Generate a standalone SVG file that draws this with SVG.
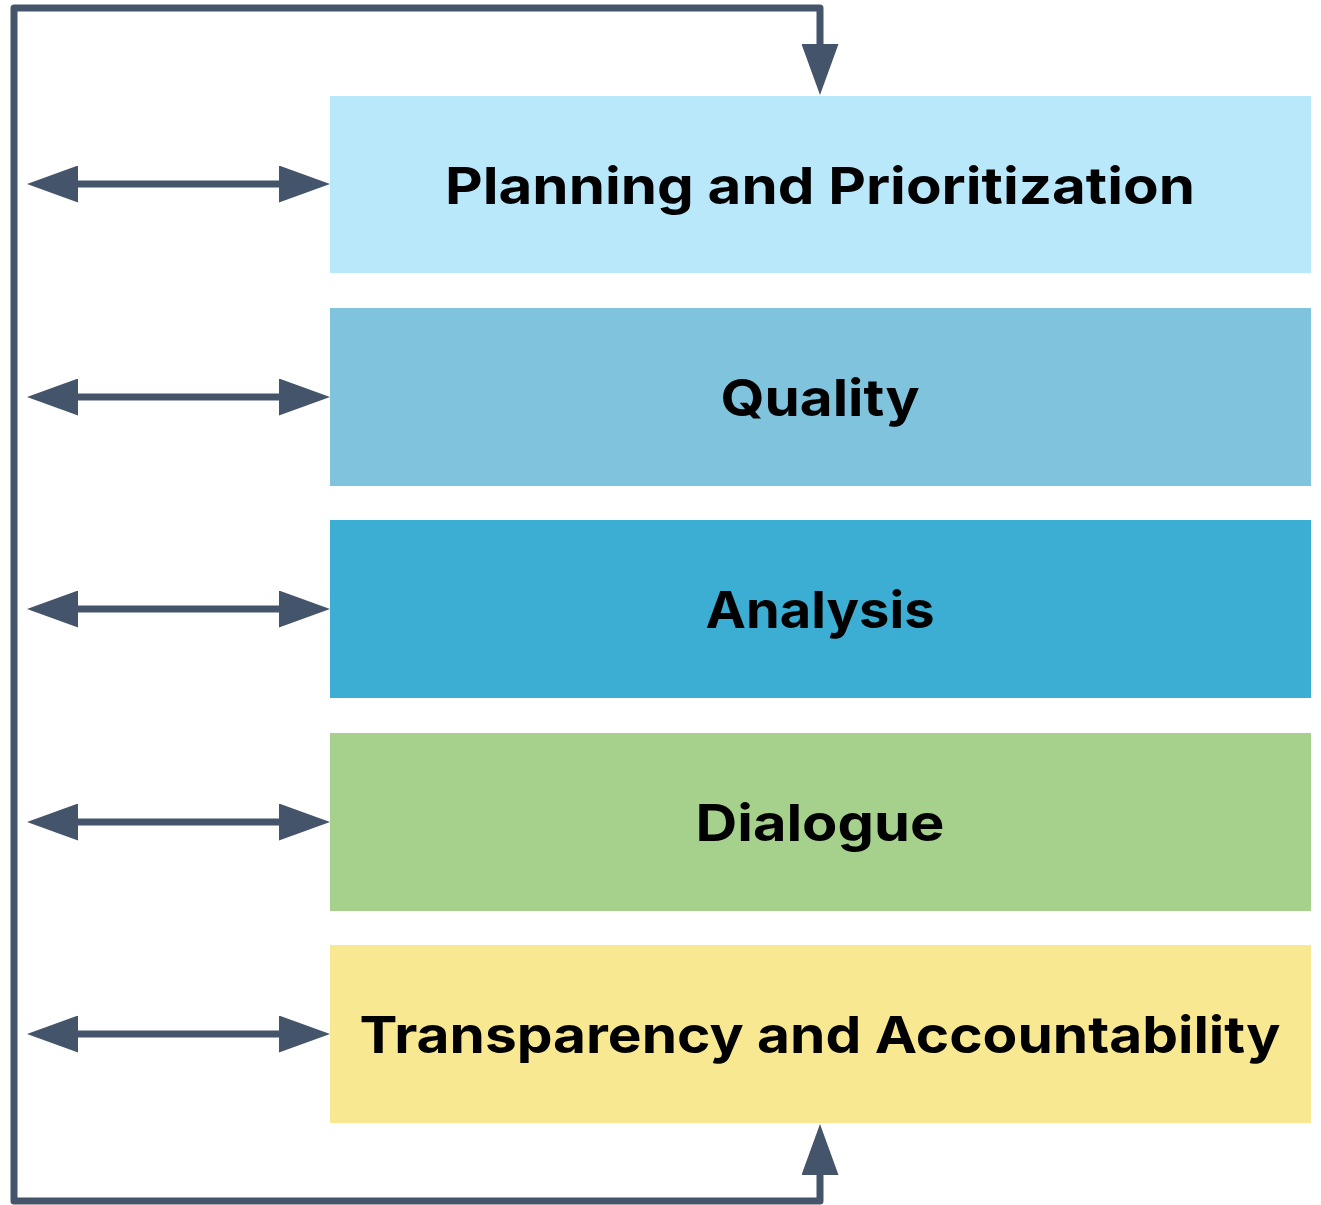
<svg xmlns="http://www.w3.org/2000/svg" width="1321" height="1205" viewBox="0 0 1321 1205">
  <style>
    .box { stroke: none; }
    .label { font-family: Inter, "Open Sans", "Liberation Sans", sans-serif; font-weight: 700; font-size: 51px; fill: #000000; text-anchor: middle; }
    .link { fill: none; stroke: #44546A; stroke-width: 7; stroke-linejoin: round; }
  </style>
  <defs>
    <marker id="head" viewBox="0 -18.5 51 37" markerWidth="51" markerHeight="37" refX="0" refY="0" markerUnits="userSpaceOnUse" orient="auto-start-reverse">
      <path d="M0,-18.5 L51,0 L0,18.5 Z" fill="#44546A"/>
    </marker>
  </defs>

  <rect width="1321" height="1205" fill="#FFFFFF"/>

  <g id="planning">
    <rect class="box" x="330" y="96" width="981" height="177" fill="#BAE8FB"/>
    <text class="label" x="820" y="204" textLength="750" lengthAdjust="spacingAndGlyphs">Planning and Prioritization</text>
  </g>
  <g id="quality">
    <rect class="box" x="330" y="308" width="981" height="178" fill="#7FC4DC"/>
    <text class="label" x="820" y="416" textLength="199" lengthAdjust="spacingAndGlyphs">Quality</text>
  </g>
  <g id="analysis">
    <rect class="box" x="330" y="520" width="981" height="178" fill="#3CAED3"/>
    <text class="label" x="820" y="628" textLength="229" lengthAdjust="spacingAndGlyphs">Analysis</text>
  </g>
  <g id="dialogue">
    <rect class="box" x="330" y="733" width="981" height="178" fill="#A6D18C"/>
    <text class="label" x="820" y="841" textLength="249" lengthAdjust="spacingAndGlyphs">Dialogue</text>
  </g>
  <g id="transparency">
    <rect class="box" x="330" y="945" width="981" height="178" fill="#F7E891"/>
    <text class="label" x="820" y="1053" textLength="921" lengthAdjust="spacingAndGlyphs">Transparency and Accountability</text>
  </g>

  <g id="connectors">
    <path class="link" d="M820,44 V8 H14 V1201 H820 V1175" marker-start="url(#head)" marker-end="url(#head)"/>
    <line class="link" x1="78" y1="184" x2="279" y2="184" marker-start="url(#head)" marker-end="url(#head)"/>
    <line class="link" x1="78" y1="397" x2="279" y2="397" marker-start="url(#head)" marker-end="url(#head)"/>
    <line class="link" x1="78" y1="609" x2="279" y2="609" marker-start="url(#head)" marker-end="url(#head)"/>
    <line class="link" x1="78" y1="822" x2="279" y2="822" marker-start="url(#head)" marker-end="url(#head)"/>
    <line class="link" x1="78" y1="1034" x2="279" y2="1034" marker-start="url(#head)" marker-end="url(#head)"/>
  </g>
</svg>
